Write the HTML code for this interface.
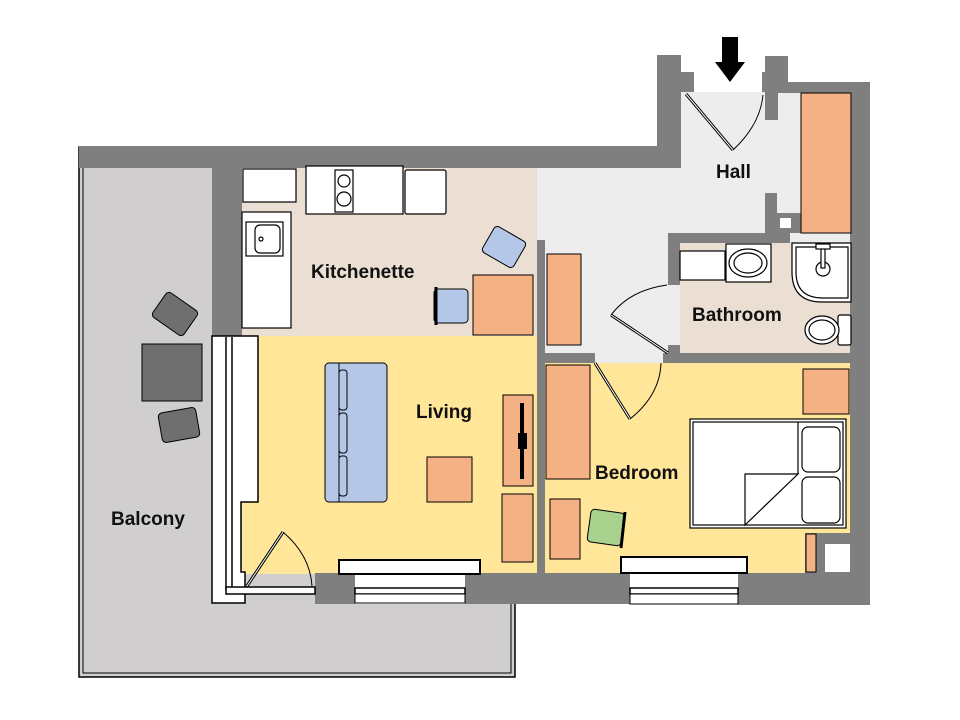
<!DOCTYPE html>
<html><head><meta charset="utf-8"><style>
html,body{margin:0;padding:0;background:#fff;}
svg{display:block;}
text{font-family:"Liberation Sans",sans-serif;font-weight:bold;font-size:19px;fill:#111;}
</style></head><body>
<svg width="960" height="720" viewBox="0 0 960 720">
<!-- balcony -->
<rect x="79" y="147" width="436" height="530" fill="#d0cece" stroke="#000" stroke-width="1.5"/>
<rect x="83" y="151" width="428" height="522" fill="none" stroke="#000" stroke-width="1"/>
<!-- floors -->
<rect x="242" y="168" width="296" height="168" fill="#ebdfd4"/>
<rect x="537" y="168" width="315" height="198" fill="#ededed"/>
<rect x="680" y="92" width="172" height="80" fill="#ededed"/>
<rect x="680" y="243" width="172" height="110" fill="#ebdfd4"/>
<rect x="242" y="336" width="296" height="238" fill="#ffe699"/>
<rect x="545" y="363" width="307" height="211" fill="#ffe699"/>
<rect x="355" y="573" width="110" height="31" fill="#fff"/>
<rect x="630" y="573" width="108" height="31" fill="#fff"/>
<!-- walls -->
<g fill="#7f7f7f">
<rect x="79" y="146" width="601" height="22"/>
<rect x="657" y="55" width="24" height="113"/>
<rect x="681" y="72" width="13" height="20"/>
<rect x="765" y="56" width="23" height="37"/>
<rect x="762" y="72" width="6" height="20"/>
<rect x="765" y="92" width="13" height="28"/>
<rect x="788" y="82" width="82" height="11"/>
<rect x="850" y="82" width="20" height="523"/>
<rect x="212" y="168" width="30" height="168"/>
<rect x="537" y="240" width="8" height="334"/>
<rect x="545" y="353" width="50" height="10"/>
<rect x="663" y="353" width="187" height="10"/>
<rect x="668" y="233" width="12" height="52"/>
<rect x="668" y="345" width="12" height="10"/>
<rect x="668" y="233" width="122" height="10"/>
<rect x="765" y="193" width="12" height="40"/>
<rect x="777" y="213" width="24" height="20"/>
<rect x="315" y="573" width="40" height="31"/>
<rect x="465" y="573" width="165" height="31"/>
<rect x="738" y="573" width="132" height="32"/>
<rect x="805" y="533" width="45" height="40"/>
</g>
<rect x="780" y="218" width="11" height="10" fill="#fff"/>
<rect x="825" y="544" width="25" height="28" fill="#fff"/>
<!-- balcony window frame -->
<path d="M212 336 H258 V502 H241 V572 H245 V603 H212 Z" fill="#fff" stroke="#000" stroke-width="1.5"/>
<line x1="226" y1="337" x2="226" y2="590" stroke="#000" stroke-width="1.5"/>
<line x1="232" y1="337" x2="232" y2="590" stroke="#000" stroke-width="1.5"/>
<rect x="226" y="587" width="89" height="7" fill="#fff" stroke="#000" stroke-width="1.5"/>
<!-- balcony door -->
<line x1="247" y1="586" x2="283" y2="532" stroke="#000" stroke-width="3"/>
<line x1="247" y1="586" x2="283" y2="532" stroke="#fff" stroke-width="1"/>
<path d="M283 532 Q310 555 312 586" fill="none" stroke="#000"/>
<!-- windows -->
<rect x="339" y="560" width="141" height="14" fill="#fff" stroke="#000" stroke-width="2"/>
<rect x="355" y="588" width="110" height="6" fill="#fff" stroke="#000" stroke-width="1.5"/>
<rect x="355" y="594" width="110" height="9" fill="#fff" stroke="#000" stroke-width="1"/>
<rect x="621" y="557" width="126" height="16" fill="#fff" stroke="#000" stroke-width="2"/>
<rect x="630" y="588" width="108" height="6" fill="#fff" stroke="#000" stroke-width="1.5"/>
<rect x="630" y="594" width="108" height="10" fill="#fff" stroke="#000" stroke-width="1"/>
<!-- balcony furniture -->
<rect x="142" y="344" width="60" height="57" fill="#6f6f6f" stroke="#000"/>
<rect x="156" y="299" width="38" height="30" rx="4" fill="#6f6f6f" stroke="#000" transform="rotate(35 175 314)"/>
<rect x="160" y="410" width="38" height="30" rx="4" fill="#6f6f6f" stroke="#000" transform="rotate(-10 179 425)"/>
<!-- kitchen -->
<g stroke="#000" stroke-width="1.2" fill="#fff">
<rect x="243" y="169" width="53" height="33"/>
<rect x="306" y="166" width="97" height="48"/>
<rect x="335" y="170" width="18" height="42"/>
<circle cx="344" cy="181" r="6"/>
<circle cx="344" cy="199" r="7"/>
<rect x="405" y="170" width="41" height="44" rx="2"/>
<rect x="242" y="212" width="49" height="116"/>
<rect x="246" y="222" width="37" height="34"/>
<rect x="255" y="225" width="25" height="28" rx="5"/>
<circle cx="261" cy="239" r="2"/>
</g>
<rect x="473" y="275" width="60" height="60" fill="#f4b183" stroke="#000"/>
<rect x="486" y="232" width="36" height="30" rx="4" fill="#b4c7e7" stroke="#000" transform="rotate(30 504 247)"/>
<rect x="434" y="289" width="34" height="34" rx="4" fill="#b4c7e7" stroke="#000"/>
<line x1="436" y1="287" x2="436" y2="325" stroke="#000" stroke-width="3"/>
<!-- hall -->
<rect x="801" y="93" width="50" height="140" fill="#f4b183" stroke="#000"/>
<rect x="547" y="254" width="34" height="91" fill="#f4b183" stroke="#000"/>
<line x1="686" y1="94" x2="733" y2="150" stroke="#000" stroke-width="3"/>
<line x1="686" y1="94" x2="733" y2="150" stroke="#fff" stroke-width="1"/>
<path d="M733 150 Q760 125 763 95" fill="none" stroke="#000"/>
<path d="M722 37 H738 V62 H745 L730 82 L715 62 H722 Z" fill="#000"/>
<!-- bathroom door -->
<line x1="611" y1="315" x2="668" y2="353" stroke="#000" stroke-width="3"/>
<line x1="611" y1="315" x2="668" y2="353" stroke="#fff" stroke-width="1"/>
<path d="M611 315 Q630 290 667 285" fill="none" stroke="#000"/>
<!-- bathroom fixtures -->
<g stroke="#000" stroke-width="1.2" fill="#fff">
<rect x="680" y="251" width="45" height="29"/>
<rect x="726" y="244" width="45" height="38"/>
<ellipse cx="748" cy="263" rx="19" ry="14"/>
<ellipse cx="748" cy="263" rx="14" ry="10"/>
<path d="M792 243 H851 V302 H822 Q792 302 792 272 Z"/>
<path d="M796 247 H848 V298 H823 Q796 298 796 272 Z"/>
<circle cx="823" cy="269" r="7"/>
<rect x="821" y="246" width="4" height="22"/>
<rect x="816" y="244" width="14" height="5"/>
<rect x="838" y="315" width="13" height="30" rx="2"/>
<ellipse cx="822" cy="330" rx="17" ry="14"/>
<ellipse cx="822" cy="330" rx="13" ry="10"/>
</g>
<!-- living -->
<rect x="325" y="363" width="62" height="139" rx="4" fill="#b4c7e7" stroke="#000"/>
<line x1="339" y1="363" x2="339" y2="502" stroke="#000"/>
<rect x="339" y="370" width="8" height="40" rx="3" fill="#b4c7e7" stroke="#000"/>
<rect x="339" y="413" width="8" height="40" rx="3" fill="#b4c7e7" stroke="#000"/>
<rect x="339" y="456" width="8" height="40" rx="3" fill="#b4c7e7" stroke="#000"/>
<rect x="427" y="457" width="45" height="45" fill="#f4b183" stroke="#000"/>
<rect x="503" y="395" width="30" height="91" fill="#f4b183" stroke="#000"/>
<rect x="520" y="403" width="4" height="76" fill="#000"/>
<rect x="518" y="433" width="9" height="16" fill="#000"/>
<rect x="502" y="494" width="31" height="68" fill="#f4b183" stroke="#000"/>
<!-- bedroom -->
<rect x="546" y="365" width="44" height="114" fill="#f4b183" stroke="#000"/>
<rect x="550" y="499" width="30" height="60" fill="#f4b183" stroke="#000"/>
<rect x="589" y="511" width="34" height="33" rx="4" fill="#a9d18e" stroke="#000" transform="rotate(8 606 527)"/>
<line x1="625" y1="512" x2="621" y2="548" stroke="#000" stroke-width="3"/>
<rect x="803" y="369" width="46" height="45" fill="#f4b183" stroke="#000"/>
<rect x="806" y="534" width="10" height="38" fill="#f4b183" stroke="#000"/>
<line x1="595" y1="363" x2="630" y2="419" stroke="#000" stroke-width="3"/>
<line x1="595" y1="363" x2="630" y2="419" stroke="#fff" stroke-width="1"/>
<path d="M630 419 Q660 395 661 363" fill="none" stroke="#000"/>
<g stroke="#000" stroke-width="1.2" fill="#fff">
<rect x="690" y="419" width="156" height="109"/>
<rect x="693" y="422" width="150" height="103"/>
<line x1="798" y1="422" x2="798" y2="474"/>
<path d="M745 525 V474 H798 Z"/>
<rect x="802" y="427" width="38" height="45" rx="6"/>
<rect x="802" y="477" width="38" height="46" rx="6"/>
</g>
<!-- labels -->
<text x="716" y="178">Hall</text>
<text x="311" y="278">Kitchenette</text>
<text x="416" y="418">Living</text>
<text x="595" y="479">Bedroom</text>
<text x="692" y="321">Bathroom</text>
<text x="111" y="525">Balcony</text>
</svg>
</body></html>
